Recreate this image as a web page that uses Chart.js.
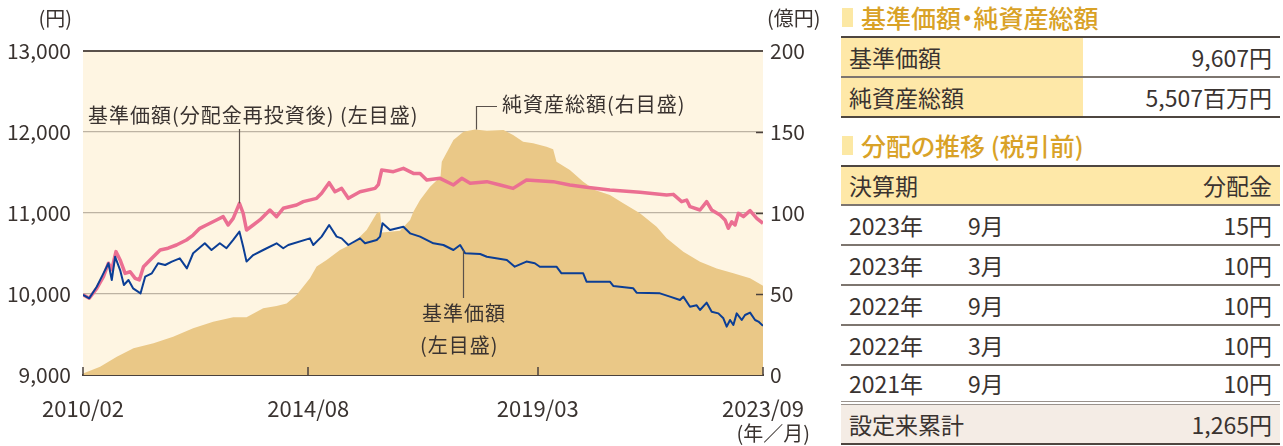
<!DOCTYPE html>
<html><head><meta charset="utf-8">
<script src="https://cdn.jsdelivr.net/npm/chart.js@4.4.0/dist/chart.umd.min.js"></script>
<style>
html,body{margin:0;padding:0;background:#fff;width:1283px;height:446px;overflow:hidden;font-family:"Noto Sans CJK JP","Noto Sans",sans-serif;color:#3a3330;}
#wrap{position:absolute;left:0;top:0;width:830px;height:446px;}
.h{position:absolute;left:861px;font-size:25px;font-weight:500;color:#D9A227;line-height:28px;white-space:nowrap;font-feature-settings:"palt";}
.bar{position:absolute;left:842px;width:11px;height:19px;background:#FCE8A4;}
.ln{position:absolute;left:841px;width:439px;}
.dk{background:#4e4640;height:2px;}
.gr{background:#7d756f;height:2px;}
.lg{background:#9a928c;height:1px;}
.row{position:absolute;left:841px;width:439px;font-size:23px;white-space:nowrap;}
.row .l{position:absolute;left:8px;top:0;}
.row .m{position:absolute;left:127px;top:0;}
.row .r{position:absolute;right:8px;top:0;text-align:right;}
.yl{background:#FEE8A8;}
</style></head>
<body>
<div id="wrap"><canvas id="c" width="830" height="446"></canvas></div>

<div class="bar" style="top:8px"></div>
<div class="h" style="top:3px">基準価額・純資産総額</div>
<div class="ln dk" style="top:36px"></div>
<div class="row" style="top:38px;height:38px;line-height:38px;"><div style="position:absolute;left:0;top:0;width:242px;height:38px" class="yl"></div><span class="l">基準価額</span><span class="r">9,607円</span></div>
<div class="ln gr" style="top:76px"></div>
<div class="row" style="top:78px;height:38px;line-height:38px;"><div style="position:absolute;left:0;top:0;width:242px;height:38px" class="yl"></div><span class="l">純資産総額</span><span class="r">5,507百万円</span></div>
<div class="ln dk" style="top:116px"></div>

<div class="bar" style="top:136px"></div>
<div class="h" style="top:131px">分配の推移 (税引前)</div>
<div class="ln dk" style="top:165px"></div>
<div class="row yl" style="top:167px;height:37px;line-height:37px;"><span class="l">決算期</span><span class="r">分配金</span></div>
<div class="ln gr" style="top:204px"></div>
<div class="row" style="top:206px;height:38px;line-height:38px;"><span class="l">2023年</span><span class="m">9月</span><span class="r">15円</span></div>
<div class="ln gr" style="top:244px"></div>
<div class="row" style="top:246px;height:38px;line-height:38px;"><span class="l">2023年</span><span class="m">3月</span><span class="r">10円</span></div>
<div class="ln gr" style="top:284px"></div>
<div class="row" style="top:286px;height:38px;line-height:38px;"><span class="l">2022年</span><span class="m">9月</span><span class="r">10円</span></div>
<div class="ln gr" style="top:324px"></div>
<div class="row" style="top:326px;height:38px;line-height:38px;"><span class="l">2022年</span><span class="m">3月</span><span class="r">10円</span></div>
<div class="ln gr" style="top:364px"></div>
<div class="row" style="top:366px;height:35px;line-height:35px;"><span class="l">2021年</span><span class="m">9月</span><span class="r">10円</span></div>
<div class="ln lg" style="top:401px"></div>
<div class="ln lg" style="top:404px"></div>
<div class="row" style="top:405px;height:38px;line-height:38px;background:#F4ECE5;"><span class="l">設定来累計</span><span class="r">1,265円</span></div>
<div class="ln dk" style="top:443px"></div>

<script>
// x positions are months since 2010/02
const tickMonths = [0, 54, 109, 163];
const tickLabels = ['2010/02', '2014/08', '2019/03', '2023/09'];

// 基準価額 (左目盛, 円)
const navMonths = [0,1.5,3.3,4.9,6.1,6.9,7.7,8.9,9.8,10.9,12,13.8,14.9,16.5,18,19.7,21.3,23.2,24.9,26.4,29.2,30.8,32.8,34.4,36,37.5,38.4,39.2,40.8,43.2,46.4,48,49.2,54.4,55.2,57.2,59,60.8,62,63.6,66.4,67.6,70.4,71.2,71.8,73.6,76.8,78.4,80.8,84,86.4,88.8,90.4,91.6,95.2,96.8,101.6,103.5,106.3,108.3,109.5,113.5,114.7,119.9,120.7,126.3,127.1,131.9,132.7,138.3,140.7,143.1,143.9,145.5,147.1,147.9,149.5,150.7,152.3,153.5,154.3,155.1,155.9,156.7,157.9,158.7,159.9,161.1,161.9,163];
const navValues = [9990,9947,10090,10255,10380,10173,10460,10296,10111,10173,10070,10008,10214,10255,10380,10358,10400,10440,10317,10503,10626,10543,10626,10565,10667,10770,10584,10400,10481,10543,10626,10565,10605,10687,10605,10708,10852,10708,10687,10605,10687,10626,10667,10708,10873,10790,10831,10749,10708,10626,10605,10543,10605,10503,10494,10460,10420,10337,10400,10380,10337,10337,10255,10255,10152,10152,10099,10070,10016,10008,9967,9926,9967,9843,9860,9802,9893,9782,9761,9700,9597,9679,9617,9761,9679,9741,9770,9679,9660,9607];

// 基準価額(分配金再投資後) (左目盛, 円)
const reinvMonths = [0,1.5,3.3,4.9,6.1,6.9,7.9,8.9,10.1,11.3,12.5,13.5,14.5,16.5,18.5,20.4,22.4,24.8,26.4,28,29.6,32,33.6,34.8,36,37.5,38.4,39.2,40.8,42.4,44.8,46.4,48,51.2,52.8,56,57.2,59,60.4,62,63.6,66.4,70,70.8,71.6,74.4,76.8,79.2,80.8,82.4,85.6,88.8,90.8,92.8,96.8,100,103.1,106.3,112.7,116.7,120.7,126.3,133.5,139.9,141.5,143.5,144.7,145.5,147.9,149.5,150.7,152.7,153.9,154.7,155.5,156.3,157.1,158.3,159.9,161.5,163];
const reinvValues = [9990,9947,10070,10214,10380,10300,10523,10420,10255,10275,10193,10173,10337,10440,10543,10565,10605,10667,10728,10811,10852,10914,10955,10852,10934,11119,10996,10790,10852,10914,11037,10955,11058,11099,11140,11181,11243,11374,11263,11304,11181,11263,11304,11350,11531,11510,11551,11489,11489,11408,11428,11346,11428,11366,11387,11346,11304,11408,11387,11346,11317,11284,11255,11222,11230,11140,11160,11078,11037,11140,11037,10975,10914,10811,10890,10852,10996,10955,11029,10934,10873];

// 純資産総額 (右目盛, 億円)
const assetMonths = [0,4.1,8.1,12.1,16.9,21.6,26.4,31.2,36,39.2,43.2,46.4,48.8,51.2,54.4,56,58.4,61.6,64.8,68,70.4,71.2,71.7,76,78.4,79.2,80.8,83.2,85.7,86,88.8,91.2,94,96.8,100.8,103.1,105.5,107.9,111.1,112.7,113.5,116.7,119.9,122.7,126.3,129.5,133.5,137.5,139.9,143.9,147.9,151.9,155.9,159.9,163];
const assetValues = [1,5.1,11.3,16.5,19.6,23.6,28.8,32.9,35.6,35.6,41.2,42.6,44.2,49.4,59.7,66.9,71,77.2,81.3,89.5,99.8,100.8,88,89,95.7,100.8,108,116.2,122.4,131.7,145,150.2,151.6,150.8,151.2,148.1,144,143,140.9,139.3,131.7,126.5,119.3,114.2,111.1,106,99.8,91.5,84.4,76.1,69.9,65.8,62.8,59.7,55.1];

const pts = (xs, ys) => xs.map((m, i) => ({x: m, y: ys[i]}));
const FONT = '"Noto Sans CJK JP","Noto Sans",sans-serif';
const TXT = '#3a3330';

const decor = {
  id: 'decor',
  beforeDraw(chart) {
    const {ctx, chartArea: a} = chart;
    ctx.save();
    ctx.fillStyle = '#FEF5E2';
    ctx.fillRect(a.left, a.top, a.right - a.left, a.bottom - a.top);
    ctx.restore();
  },
  afterDatasetsDraw(chart) {
    const {ctx, chartArea: a, scales: {x, y, y1}} = chart;
    ctx.save();
    ctx.strokeStyle = '#4a413c';
    ctx.lineWidth = 1.5;
    tickMonths.forEach(m => {
      const px = Math.round(x.getPixelForValue(m));
      ctx.beginPath(); ctx.moveTo(px, a.bottom); ctx.lineTo(px, a.bottom - 8); ctx.stroke();
    });
    [50, 100, 150].forEach(v => {
      const py = Math.round(y1.getPixelForValue(v)) + 0.5;
      ctx.beginPath(); ctx.moveTo(a.right, py); ctx.lineTo(a.right - 7, py); ctx.stroke();
    });
    // annotations
    ctx.strokeStyle = '#5a514b';
    ctx.lineWidth = 1.2;
    ctx.fillStyle = TXT;
    ctx.font = '20px ' + FONT;
    if ('letterSpacing' in ctx) ctx.letterSpacing = '1px';
    ctx.textBaseline = 'middle';
    ctx.textAlign = 'left';
    // pink label
    let lx = Math.round(x.getPixelForValue(37.5)) + 0.5;
    ctx.beginPath(); ctx.moveTo(lx, 129); ctx.lineTo(lx, y.getPixelForValue(11119)); ctx.stroke();
    ctx.fillText('基準価額(分配金再投資後) (左目盛)', 88, 115);
    // asset label
    lx = Math.round(x.getPixelForValue(94.3)) + 0.5;
    ctx.beginPath(); ctx.moveTo(lx, y1.getPixelForValue(151.6)); ctx.lineTo(lx, 106.5); ctx.lineTo(497, 106.5); ctx.stroke();
    ctx.fillText('純資産総額(右目盛)', 502, 104);
    // nav label
    lx = Math.round(x.getPixelForValue(91.1)) + 0.5;
    ctx.beginPath(); ctx.moveTo(lx, y.getPixelForValue(10540)); ctx.lineTo(lx, 298); ctx.stroke();
    ctx.fillText('基準価額', 422, 313);
    ctx.fillText('(左目盛)', 420, 345);
    ctx.restore();
  },
  afterDraw(chart) {
    const {ctx} = chart;
    ctx.save();
    ctx.fillStyle = TXT;
    ctx.font = '20px ' + FONT;
    ctx.textBaseline = 'middle';
    ctx.textAlign = 'right';
    ctx.fillText('(円)', 72, 18);
    ctx.textAlign = 'left';
    ctx.fillText('(億円)', 767, 18);
    ctx.textAlign = 'right';
    ctx.fillText('(年／月)', 810, 433);
    ctx.restore();
  }
};

new Chart(document.getElementById('c'), {
  type: 'line',
  data: {
    datasets: [
      {label: '基準価額', data: pts(navMonths, navValues), yAxisID: 'y', borderColor: '#0B3E95', borderWidth: 2, pointRadius: 0, tension: 0, order: 1, borderJoinStyle: 'round'},
      {label: '基準価額(分配金再投資後)', data: pts(reinvMonths, reinvValues), yAxisID: 'y', borderColor: '#EB6F92', borderWidth: 3.5, pointRadius: 0, tension: 0, order: 2, borderJoinStyle: 'round'},
      {label: '純資産総額', data: pts(assetMonths, assetValues), yAxisID: 'y1', borderWidth: 0, borderColor: 'rgba(0,0,0,0)', backgroundColor: '#EAC887', fill: 'origin', pointRadius: 0, tension: 0, order: 3}
    ]
  },
  options: {
    responsive: false,
    animation: false,
    devicePixelRatio: 1,
    layout: {padding: {top: 51, left: 0, right: 0, bottom: 0}},
    plugins: {legend: {display: false}, tooltip: {enabled: false}},
    scales: {
      x: {
        type: 'linear', min: 0, max: 163,
        afterBuildTicks: s => { s.ticks = tickMonths.map(v => ({value: v})); },
        afterFit: s => { s.height = 71; },
        grid: {display: false},
        border: {display: true, color: '#4a413c', width: 2},
        ticks: {autoSkip: false, maxRotation: 0, padding: 12, color: TXT, font: {family: FONT, size: 22},
          callback: v => tickLabels[tickMonths.indexOf(v)]}
      },
      y: {
        position: 'left', min: 9000, max: 13000,
        afterFit: s => { s.width = 83; },
        border: {display: false},
        grid: {drawTicks: false,
          color: c => c.tick.value === 13000 ? '#5a514b' : (c.tick.value === 9000 ? 'rgba(0,0,0,0)' : '#bdb3a3'),
          lineWidth: c => c.tick.value === 13000 ? 2 : 1.2},
        ticks: {stepSize: 1000, padding: 12, color: TXT, font: {family: FONT, size: 21},
          callback: v => v.toLocaleString('en-US')}
      },
      y1: {
        position: 'right', min: 0, max: 200,
        afterFit: s => { s.width = 67; },
        border: {display: false},
        grid: {display: false, drawTicks: false},
        ticks: {stepSize: 50, padding: 7, color: TXT, font: {family: FONT, size: 21}}
      }
    }
  },
  plugins: [decor]
});
</script>
</body></html>
